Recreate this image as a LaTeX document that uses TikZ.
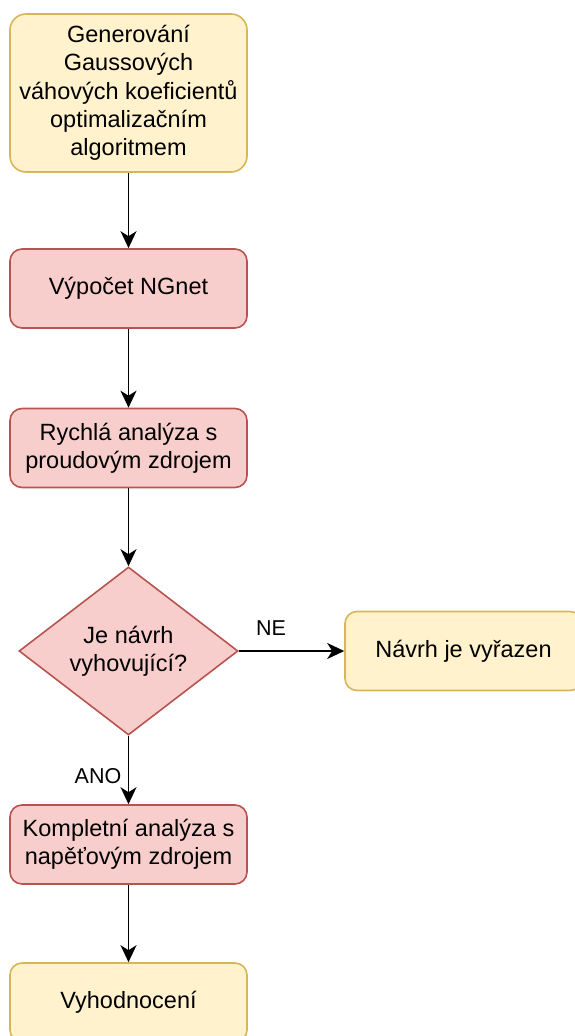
\documentclass[tikz,border=0pt]{standalone}
\usepackage{fontspec}
\setmainfont{Liberation Sans}
\usetikzlibrary{shapes.geometric,arrows.meta}

\definecolor{ylwfill}{HTML}{FFF2CC}
\definecolor{ylwline}{HTML}{D6B656}
\definecolor{redfill}{HTML}{F8CECC}
\definecolor{redline}{HTML}{B85450}

\tikzset{
    box/.style={rounded corners=12pt, line width=1.6pt, minimum width=237pt,
        minimum height=79pt, inner sep=0pt, align=center,
        font=\fontsize{23.5}{28.3}\selectfont},
    ylwbox/.style={box, draw=ylwline, fill=ylwfill},
    redbox/.style={box, draw=redline, fill=redfill},
    flow/.style={line width=1.6pt, -{Stealth[length=17pt,width=16pt,inset=5pt]}},
    edgelabel/.style={font=\fontsize{21.5}{26}\selectfont}
}

\begin{document}
\begin{tikzpicture}[x=1pt,y=-1pt]
    \useasboundingbox (0,0) rectangle (574,1036);

    % main column
    \node[ylwbox, minimum height=158pt, rounded corners=16pt] (gen) at (128.5,93)
        {Generování\\Gaussových\\váhových koeficientů\\optimalizačním\\algoritmem};
    \node[redbox] (ngnet) at (128.5,288.5) {Výpočet NGnet};
    \node[redbox] (fast) at (128.5,448) {Rychlá analýza s\\proudovým zdrojem};

    % decision
    \node[diamond, draw=redline, fill=redfill, line width=1.6pt, aspect=1.3,
        minimum width=219pt, minimum height=168pt, inner sep=0pt, align=center,
        font=\fontsize{23.5}{28.3}\selectfont] (ok) at (128.5,651)
        {Je návrh\\vyhovující?};
    \node[ylwbox] (out) at (463.5,651) {Návrh je vyřazen};

    \node[redbox] (full) at (128.5,844.5) {Kompletní analýza s\\napěťovým zdrojem};
    \node[ylwbox] (eval) at (128.5,1002.5) {Vyhodnocení};

    % arrows
    \draw[flow] (gen) -- (ngnet);
    \draw[flow] (ngnet) -- (fast);
    \draw[flow] (fast) -- (ok);
    \draw[flow] (ok) -- (out);
    \draw[flow] (ok) -- (full);
    \draw[flow] (full) -- (eval);

    \node[edgelabel] (ne) at (271,628) {NE};
    \node[edgelabel] (ano) at (98,776) {ANO};
\end{tikzpicture}
\end{document}
